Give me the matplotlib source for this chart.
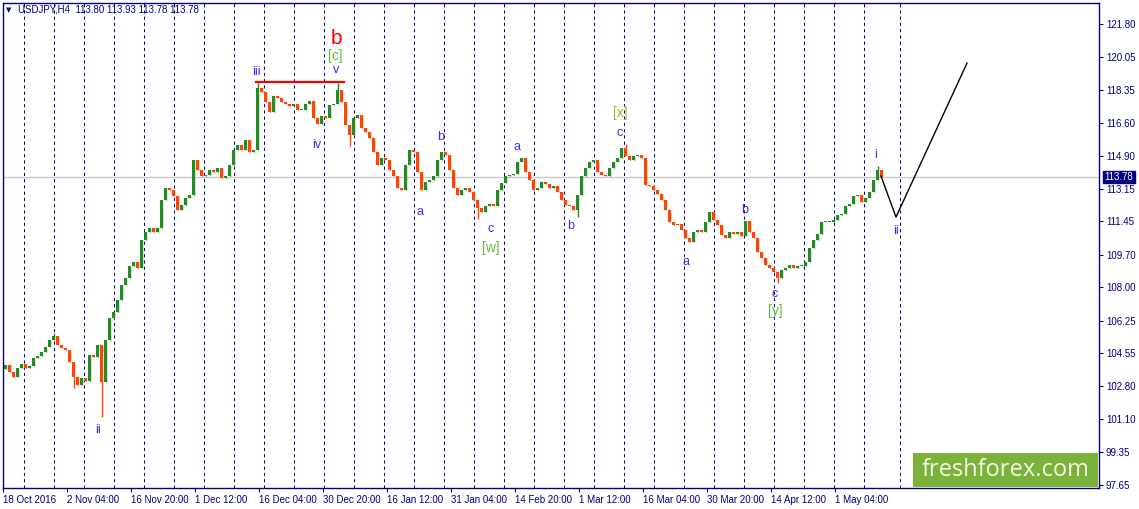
import matplotlib.pyplot as plt
from matplotlib.patches import Rectangle
import numpy as np

# USDJPY H4 closes, one value per 4 bars
close = [103.92, 103.56, 103.30, 103.77, 103.98, 103.77, 103.87, 104.29, 104.40, 104.60,
         104.87, 105.23, 105.44, 104.97, 104.82, 104.71, 104.08, 103.30, 102.88, 103.24,
         103.09, 104.45, 104.34, 104.97, 103.03, 105.23, 106.39, 106.70, 107.33, 108.12,
         108.48, 109.11, 109.32, 109.01, 110.47, 110.89, 111.10, 110.89, 111.10, 112.57,
         113.20, 113.09, 112.78, 112.05, 112.31, 112.68, 112.83, 114.67, 114.14, 113.83,
         113.88, 114.14, 114.04, 114.25, 113.72, 113.83, 114.40, 115.19, 115.45, 115.19,
         115.71, 115.08, 115.19, 118.44, 118.23, 117.71, 117.18, 118.02, 117.91, 117.71,
         117.60, 117.50, 117.60, 117.29, 117.29, 117.60, 117.76, 116.87, 116.55, 116.97,
         116.87, 117.55, 117.60, 118.33, 117.71, 116.50, 115.98, 116.87, 117.02, 116.34,
         116.13, 115.82, 115.08, 114.40, 114.77, 114.67, 114.14, 113.83, 113.20, 113.09,
         114.40, 115.19, 115.08, 114.04, 113.09, 113.51, 113.62, 113.83, 114.67, 115.08,
         114.93, 114.14, 113.20, 112.83, 113.09, 113.20, 112.99, 112.57, 112.15, 111.94,
         112.26, 112.36, 112.26, 113.09, 113.46, 113.83, 113.88, 113.93, 114.56, 114.77,
         114.04, 113.62, 113.09, 113.20, 113.51, 113.41, 113.20, 113.30, 112.99, 112.57,
         112.31, 112.26, 112.05, 112.83, 113.83, 114.25, 114.56, 114.67, 114.04, 113.88,
         113.83, 114.25, 114.56, 114.77, 115.29, 114.88, 114.67, 114.88, 114.93, 114.77,
         113.36, 113.30, 113.09, 112.88, 112.57, 112.05, 111.42, 111.26, 111.31, 111.00,
         110.58, 110.37, 110.89, 111.00, 110.89, 111.42, 111.94, 111.52, 111.26, 110.74,
         110.58, 110.89, 110.79, 110.89, 110.68, 111.47, 110.89, 110.58, 109.84, 109.53,
         109.16, 109.01, 108.80, 108.48, 108.90, 109.01, 109.16, 109.01, 109.11, 109.11,
         109.32, 110.05, 110.47, 110.79, 111.42, 111.42, 111.42, 111.52, 111.78, 111.84,
         112.26, 112.36, 112.78, 112.83, 112.46, 112.68, 112.99, 113.62, 114.14, 113.78]
# a few long wicks (candle index -> price)
wick_low = {24: 101.20, 17: 102.70, 86: 115.40, 118: 111.60, 143: 111.70, 193: 108.20}
wick_high = {63: 118.70, 83: 118.70, 12: 105.60, 155: 115.50, 218: 114.35}

date_labels = ['18 Oct 2016', '2 Nov 04:00', '16 Nov 20:00', '1 Dec 12:00', '16 Dec 04:00',
               '30 Dec 20:00', '16 Jan 12:00', '31 Jan 04:00', '14 Feb 20:00', '1 Mar 12:00',
               '16 Mar 04:00', '30 Mar 20:00', '14 Apr 12:00', '1 May 04:00']
price_ticks = [121.80, 120.05, 118.35, 116.60, 114.90, 113.15, 111.45, 109.70,
               108.00, 106.25, 104.55, 102.80, 101.10, 99.35, 97.65]
last_price = 113.78

# week separators (bar numbers)
separators = [21 + 30 * k for k in range(29)] + [897]

# wave marks: (bar, price, text, colour, size)
blue = '#3a2cf0'
lgreen = '#5cc13a'
waves = [(95, 100.52, 'ii', blue, 9), (253, 119.28, 'iii', blue, 9), (314, 115.45, 'iv', blue, 9),
         (333, 119.38, 'v', blue, 9), (332, 120.12, '[c]', lgreen, 10), (333, 121.06, 'b', 'red', 15),
         (417, 111.94, 'a', blue, 9), (438, 115.87, 'b', blue, 9), (488, 111.05, 'c', blue, 9),
         (488, 110.05, '[w]', lgreen, 10), (514, 115.35, 'a', blue, 9), (568, 111.21, 'b', blue, 9),
         (617, 116.08, 'c', blue, 9), (617, 117.13, '[x]', '#8cbf2a', 10), (683, 109.32, 'a', blue, 9),
         (742, 112.05, 'b', blue, 9), (772, 107.64, 'c', blue, 9), (772, 106.75, '[y]', lgreen, 10),
         (873, 114.93, 'i', blue, 9), (893, 110.95, 'ii', blue, 9)]
proj_x = [878, 893, 964]
proj_y = [113.83, 111.68, 119.75]
level_x = [253, 341]
level_y = 118.75

navy = '#000080'
font = 'Liberation Sans'

fig = plt.figure(figsize=(11.39, 5.09), dpi=100)
ax = fig.add_axes([3 / 1139, 21 / 509, 1096 / 1139, 485 / 509])
ax.set_xlim(0, 1096)
ax.set_ylim(97.48, 122.90)

ax.vlines(separators, 97.48, 122.90, colors=navy, linestyles=(0, (3, 3)), lw=0.75, zorder=1)
ax.axhline(last_price, color='#c8c8c8', lw=1, zorder=1)

bars = np.arange(len(close)) * 4 + 1
opens = [103.70] + close[:-1]
for i, (x, o, c) in enumerate(zip(bars, opens, close)):
    col = '#228b22' if c >= o else '#ff4500'
    lo = wick_low.get(i, min(o, c))
    hi = wick_high.get(i, max(o, c))
    ax.vlines(x + 1.5, lo, hi, colors=col, lw=1, zorder=2)
    h = c - o
    if abs(h) < 0.04:
        h = 0.04
    ax.bar(x + 1.5, h, bottom=o, width=3, color=col, lw=0, zorder=2)

ax.plot(level_x, [level_y, level_y], color='red', lw=1.6, zorder=3)
ax.plot(proj_x, proj_y, color='black', lw=1, zorder=3)

for x, y, t, col, s in waves:
    ax.text(x, y, t, color=col, fontsize=s, ha='center', va='center', family=font, zorder=4)

# axes styling
for sp in ax.spines.values():
    sp.set_color(navy)
    sp.set_linewidth(1)
ax.yaxis.tick_right()
ax.set_yticks(price_ticks)
ax.set_yticklabels(['%.2f' % p for p in price_ticks])
ax.set_xticks(np.arange(len(date_labels)) * 64)
ax.set_xticklabels(date_labels)
ax.tick_params(axis='both', colors=navy, labelcolor=navy, labelsize=7, length=3, width=0.8, pad=2)
for lab in ax.get_xticklabels():
    lab.set_horizontalalignment('left')
    lab.set_family(font)
for lab in ax.get_yticklabels():
    lab.set_family(font)

ax.annotate('%.2f' % last_price, xy=(1.0, last_price), xycoords=('axes fraction', 'data'),
            xytext=(4, 0), textcoords='offset points', va='center', ha='left',
            fontsize=7, family=font, color='white',
            bbox=dict(boxstyle='square,pad=0.15', fc=navy, ec=navy), annotation_clip=False)

fig.text(6 / 1139, 1 - 10 / 509, '\u25bc', fontsize=5, color=navy, va='center')
fig.text(18 / 1139, 1 - 10 / 509, 'USDJPY,H4  113.80 113.93 113.78 113.78', fontsize=7,
         color=navy, va='center', family=font)

# watermark
ax.add_patch(Rectangle((0.830, 0.002), 0.1695, 0.07, transform=ax.transAxes,
                       fc='#7db23a', ec='none', zorder=5))
ax.text(0.9145, 0.037, 'freshforex.com', transform=ax.transAxes, ha='center', va='center',
        fontsize=17, family='Open Sans', color='#f2f7e6', zorder=6)

fig.savefig('out.png', dpi=100)
